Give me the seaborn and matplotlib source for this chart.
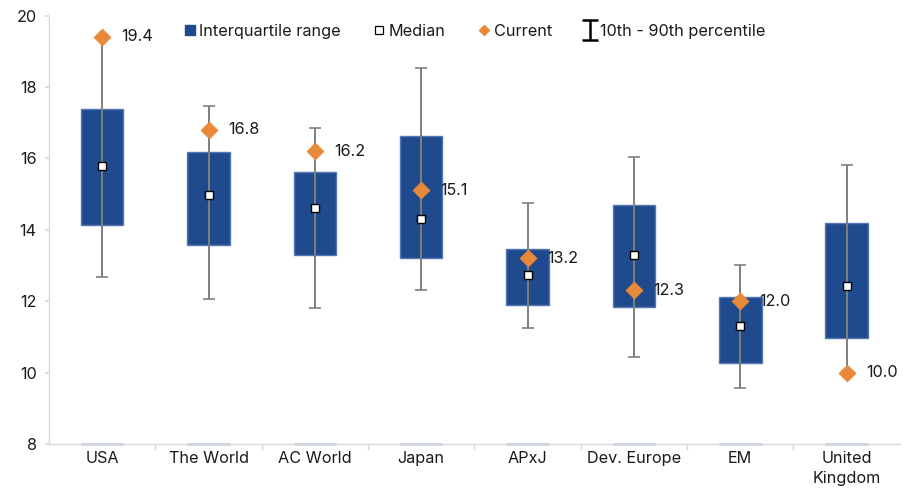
import numpy as np
import pandas as pd
import matplotlib
matplotlib.use("Agg")
import matplotlib.pyplot as plt
from matplotlib.lines import Line2D
from matplotlib.path import Path
import seaborn as sns

# ---- data ----
categories = ["USA", "The World", "AC World", "Japan", "APxJ", "Dev. Europe", "EM", "United\nKingdom"]
p10 = [12.68, 12.05, 11.80, 12.30, 11.24, 10.43, 9.57, 10.05]
p25 = [14.14, 13.58, 13.28, 13.21, 11.90, 11.84, 10.27, 10.97]
median = [15.79, 14.98, 14.61, 14.30, 12.74, 13.30, 11.31, 12.43]
p75 = [17.38, 16.19, 15.62, 16.62, 13.47, 14.70, 12.13, 14.20]
p90 = [19.40, 17.47, 16.85, 18.52, 14.74, 16.05, 13.00, 15.80]
current = [19.4, 16.8, 16.2, 15.1, 13.2, 12.3, 12.0, 10.0]
current_labels = ["19.4", "16.8", "16.2", "15.1", "13.2", "12.3", "12.0", "10.0"]
yticks = [8, 10, 12, 14, 16, 18, 20]

# ---- styling ----
BOX = "#1f4b8e"
BOX_EDGE = "#5578b5"
ORANGE = "#e8893a"
WHISK = "#7f7f7f"
SPINE = "#d9d9d9"
TXT = "#1a1a1a"
FS = 11.7

sns.set_theme(style="white")
plt.rcParams["font.family"] = ["Inter", "DejaVu Sans"]
plt.rcParams["font.size"] = FS

df = pd.DataFrame({
    "cat": categories,
    "p10": p10, "p25": p25, "median": median, "p75": p75, "p90": p90,
    "current": current,
})
df["iqr"] = df["p75"] - df["p25"]

fig = plt.figure(figsize=(9.2, 4.94), dpi=100)
ax = fig.add_axes([0.0533, 0.1012, 0.9247, 0.8674])

# interquartile boxes
sns.barplot(data=df, x="cat", y="iqr", bottom=df["p25"].values, order=categories,
            color=BOX, edgecolor=BOX_EDGE, linewidth=1.0, width=0.4,
            saturation=1, ax=ax, zorder=2)

# faint base strokes at axis floor
xs = np.arange(len(categories))
ax.hlines([yticks[0]] * len(xs), xs - 0.2, xs + 0.2, colors="#c9d3e3",
          linewidth=2.2, zorder=1, clip_on=False)

# 10th-90th whiskers
mid = (df["p10"] + df["p90"]) / 2
half = (df["p90"] - df["p10"]) / 2
ax.errorbar(xs, mid, yerr=half, fmt="none", ecolor=WHISK, elinewidth=1.4,
            capsize=4.5, capthick=1.2, zorder=3)

# medians and current values
sns.scatterplot(data=df, x="cat", y="median", marker="s", s=40, color="white",
                edgecolor="black", linewidth=1.0, ax=ax, zorder=4, legend=False)
sns.scatterplot(data=df, x="cat", y="current", marker="D", s=75, color=ORANGE,
                edgecolor=ORANGE, linewidth=0.5, ax=ax, zorder=5, legend=False)

for i, (v, lab) in enumerate(zip(current, current_labels)):
    ax.annotate(lab, (i, v), xytext=(14, 0), textcoords="offset points",
                ha="left", va="center", fontsize=FS, color=TXT)

# axes
ax.set_xlim(-0.5, len(categories) - 0.5)
ax.set_ylim(yticks[0], yticks[-1])
ax.set_yticks(yticks)
ax.set_xlabel("")
ax.set_ylabel("")
for s in ["top", "right"]:
    ax.spines[s].set_visible(False)
for s in ["left", "bottom"]:
    ax.spines[s].set_color(SPINE)
    ax.spines[s].set_linewidth(1.0)
ax.tick_params(axis="y", which="major", left=True, length=3, color=SPINE,
               pad=6, labelsize=FS, labelcolor=TXT)
ax.tick_params(axis="x", which="major", bottom=False, length=0, pad=5,
               labelsize=FS, labelcolor=TXT)
for t in ax.get_xticklabels():
    t.set_linespacing(1.4)
ax.set_xticks(np.arange(len(categories) - 1) + 0.5, minor=True)
ax.tick_params(axis="x", which="minor", bottom=True, length=4, color=SPINE, width=1)
ax.grid(False)

# legend
ibeam = Path([(-0.85, 1), (0.85, 1), (0, 1), (0, -1), (-0.85, -1), (0.85, -1)],
             [Path.MOVETO, Path.LINETO, Path.MOVETO, Path.LINETO, Path.MOVETO, Path.LINETO])
handles = [
    Line2D([], [], ls="none", marker="s", ms=7.5, mfc=BOX, mec=BOX),
    Line2D([], [], ls="none", marker="s", ms=5.5, mfc="white", mec="black", mew=0.9),
    Line2D([], [], ls="none", marker="D", ms=5, mfc=ORANGE, mec=ORANGE),
    Line2D([], [], ls="none", marker=ibeam, ms=14, mfc="none", mec="black", mew=1.8),
]
labels = ["Interquartile range", "Median", "Current", "10th - 90th percentile"]
fig.legend(handles, labels, loc="center", bbox_to_anchor=(0.516, 0.937), ncol=4,
           frameon=False, handlelength=0.7, handletextpad=0.25, columnspacing=2.0,
           fontsize=FS, labelcolor=TXT)

fig.savefig("out.png", dpi=100)
